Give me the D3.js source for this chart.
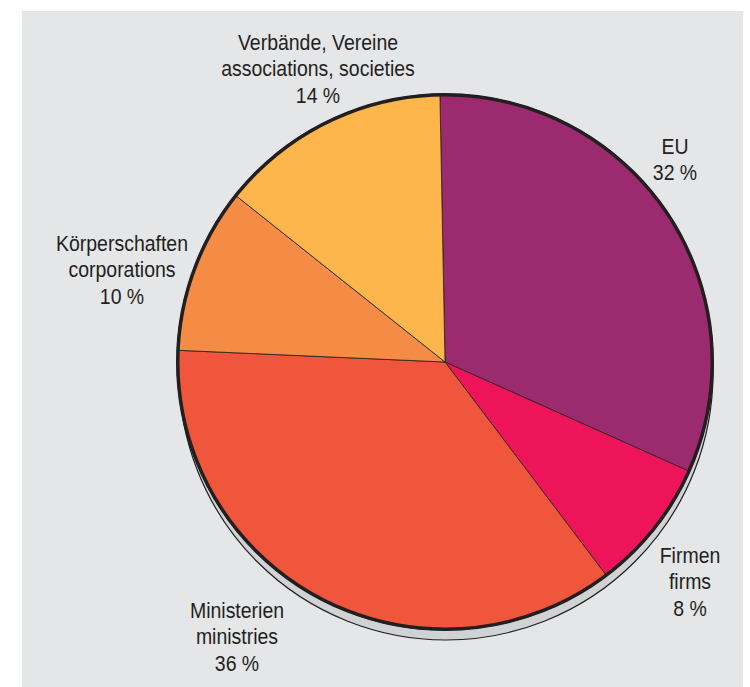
<!DOCTYPE html>
<html>
<head>
<meta charset="utf-8">
<script src="https://cdn.jsdelivr.net/npm/d3@7/dist/d3.min.js"></script>
<style>
  body { margin: 0; background: #fff; }
  svg text { font-family: "Liberation Sans", Arial, sans-serif; font-size: 22px; fill: #231f20; }
</style>
</head>
<body>
<div id="chart"></div>
<script>
// slices, clockwise from the top
var labelsDe = ["EU", "Firmen", "Ministerien", "Körperschaften", "Verbände, Vereine"];
var labelsEn = [null, "firms", "ministries", "corporations", "associations, societies"];
var shares = [32, 8, 36, 10, 14];
var colors = ["#9b2a6f", "#ed1459", "#ef563b", "#f58c45", "#fdb64b"];

// label anchors (centre of the text block, first line baseline)
var labelPos = [[675, 154], [690, 563], [237, 618], [122, 251], [318, 50]];

var width = 750, height = 687;
var cx = 445, cy = 362, r = 267;

var svg = d3.select("#chart").append("svg")
    .attr("width", width)
    .attr("height", height);

// grey panel
svg.append("rect")
    .attr("x", 22).attr("y", 11)
    .attr("width", 721).attr("height", height - 11)
    .attr("fill", "#e5e6e8");

var data = shares.map(function (v, i) {
    return {de: labelsDe[i], en: labelsEn[i], value: v, color: colors[i], pos: labelPos[i]};
});

var pie = d3.pie()
    .sort(null)
    .value(function (d) { return d.value; })
    .startAngle(-0.019)
    .endAngle(2 * Math.PI - 0.019);

var arc = d3.arc().innerRadius(0).outerRadius(r);

// shadow disc under the pie
svg.append("circle")
    .attr("cx", cx + 1).attr("cy", cy + 11)
    .attr("r", r)
    .attr("fill", "#d1d2d4")
    .attr("stroke", "#231f20")
    .attr("stroke-width", 1.2);

var g = svg.append("g").attr("transform", "translate(" + cx + "," + cy + ")");

g.append("circle")
    .attr("r", r)
    .attr("fill", "none")
    .attr("stroke", "#231f20")
    .attr("stroke-width", 4);

g.selectAll(".slice")
    .data(pie(data))
    .enter().append("path")
    .attr("class", "slice")
    .attr("d", arc)
    .attr("fill", function (d) { return d.data.color; })
    .attr("stroke", "#231f20")
    .attr("stroke-width", 0.8)
    .attr("stroke-linejoin", "round");

// outer rim on top
g.append("circle")
    .attr("r", r)
    .attr("fill", "none")
    .attr("stroke", "#231f20")
    .attr("stroke-width", 3);

// labels (condensed look)
var lab = svg.selectAll(".lab")
    .data(data)
    .enter().append("text")
    .attr("class", "lab")
    .attr("text-anchor", "middle")
    .attr("transform", function (d) {
        return "translate(" + d.pos[0] + "," + d.pos[1] + ") scale(0.885,1)";
    });

lab.each(function (d) {
    var lines = [d.de];
    if (d.en) lines.push(d.en);
    lines.push(d.value + " %");
    var t = d3.select(this);
    lines.forEach(function (s, i) {
        t.append("tspan").attr("x", 0).attr("y", i * 26.5).text(s);
    });
});
</script>
</body>
</html>
